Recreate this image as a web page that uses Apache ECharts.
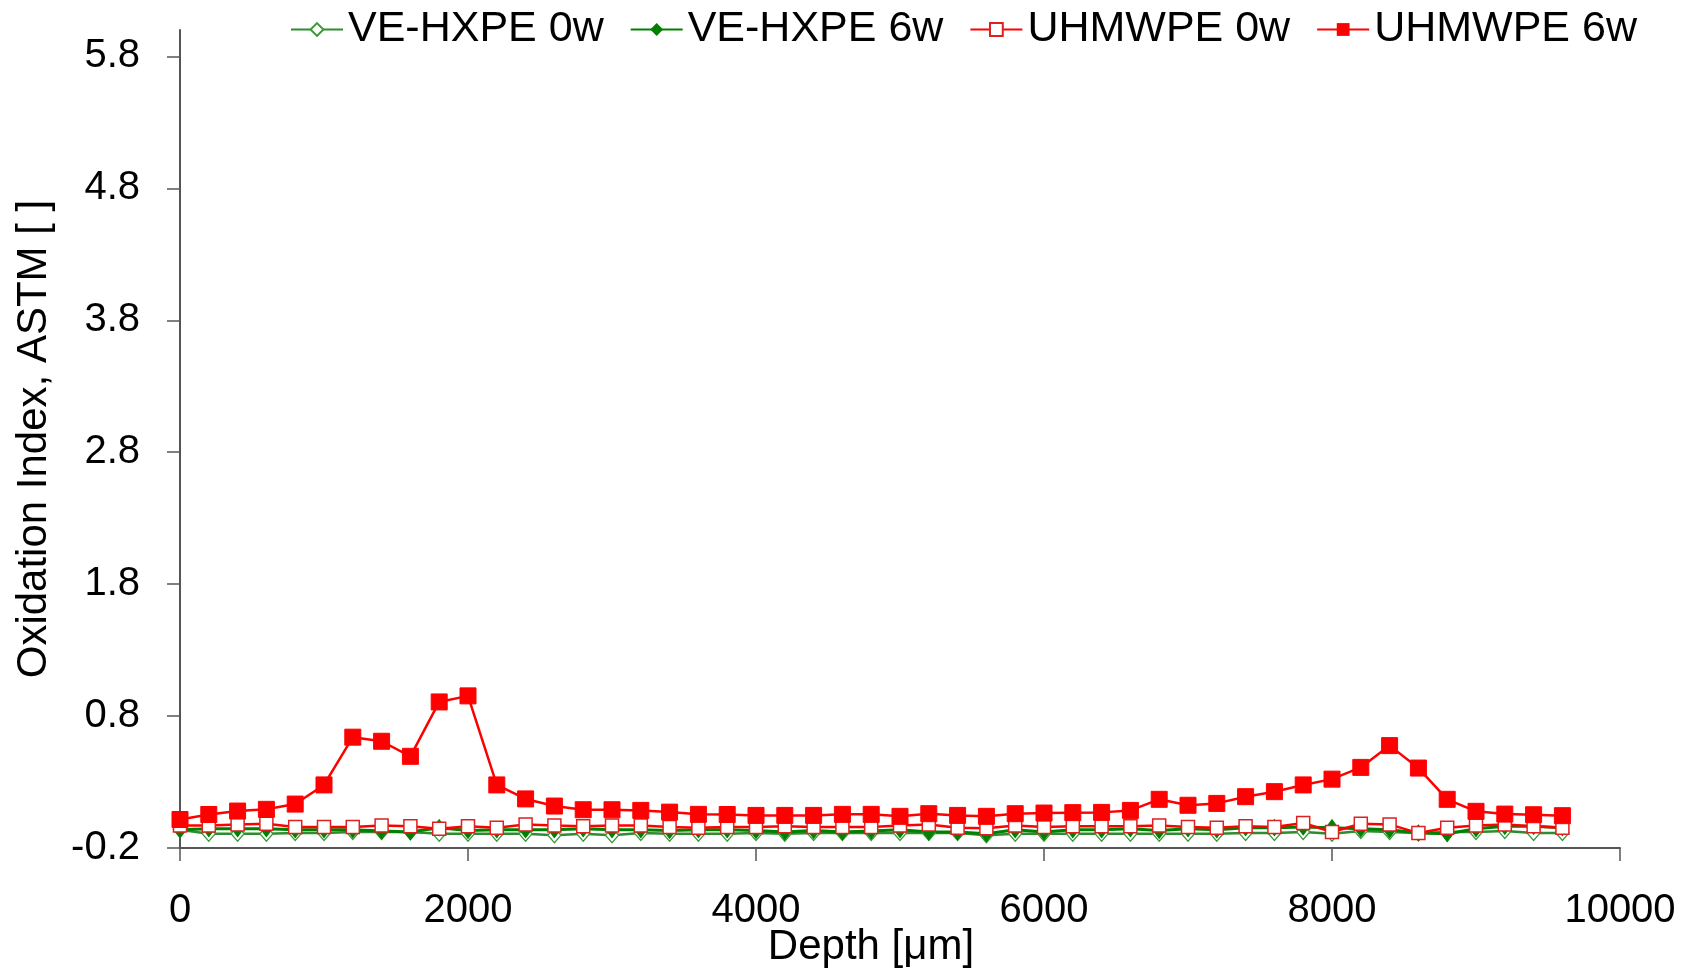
<!DOCTYPE html>
<html>
<head>
<meta charset="utf-8">
<script src="https://cdn.jsdelivr.net/npm/echarts@6/dist/echarts.min.js"></script>
<style>html,body{margin:0;padding:0;background:#fff;}#c{width:1690px;height:971px;}</style>
</head>
<body>
<div id="c"></div>
<script>
const depth = [0,200,400,600,800,1000,1200,1400,1600,1800,2000,2200,2400,2600,2800,3000,3200,3400,3600,3800,4000,4200,4400,4600,4800,5000,5200,5400,5600,5800,6000,6200,6400,6600,6800,7000,7200,7400,7600,7800,8000,8200,8400,8600,8800,9000,9200,9400,9600];
const veHxpe0w = [-0.061,-0.092,-0.092,-0.092,-0.087,-0.087,-0.079,-0.079,-0.079,-0.092,-0.092,-0.092,-0.092,-0.104,-0.092,-0.104,-0.087,-0.092,-0.092,-0.092,-0.087,-0.092,-0.087,-0.087,-0.087,-0.087,-0.087,-0.087,-0.104,-0.092,-0.092,-0.092,-0.092,-0.092,-0.092,-0.092,-0.092,-0.087,-0.087,-0.079,-0.092,-0.072,-0.079,-0.087,-0.079,-0.079,-0.072,-0.087,-0.087];
const veHxpe6w = [-0.061,-0.054,-0.054,-0.054,-0.061,-0.061,-0.061,-0.072,-0.079,-0.046,-0.067,-0.061,-0.061,-0.061,-0.054,-0.061,-0.061,-0.067,-0.061,-0.061,-0.067,-0.079,-0.067,-0.079,-0.072,-0.061,-0.079,-0.079,-0.092,-0.061,-0.079,-0.061,-0.061,-0.054,-0.067,-0.054,-0.061,-0.046,-0.046,-0.041,-0.046,-0.054,-0.061,-0.087,-0.092,-0.054,-0.036,-0.036,-0.046];
const uhmwpe0w = [-0.029,-0.029,-0.021,-0.016,-0.041,-0.041,-0.041,-0.029,-0.036,-0.054,-0.036,-0.046,-0.021,-0.029,-0.036,-0.029,-0.029,-0.041,-0.046,-0.041,-0.041,-0.036,-0.041,-0.041,-0.041,-0.029,-0.021,-0.046,-0.050,-0.029,-0.041,-0.036,-0.036,-0.036,-0.029,-0.041,-0.046,-0.036,-0.041,-0.011,-0.079,-0.016,-0.021,-0.087,-0.046,-0.029,-0.021,-0.036,-0.046];
const uhmwpe6w = [0.016,0.054,0.080,0.093,0.133,0.278,0.640,0.609,0.495,0.907,0.953,0.278,0.172,0.118,0.090,0.090,0.085,0.072,0.055,0.054,0.047,0.047,0.047,0.055,0.055,0.040,0.060,0.047,0.040,0.060,0.065,0.068,0.070,0.085,0.169,0.124,0.138,0.189,0.227,0.278,0.322,0.411,0.576,0.406,0.169,0.078,0.057,0.052,0.045];
const yTicks = [-0.2,0.8,1.8,2.8,3.8,4.8,5.8];
const xTicks = [0,2000,4000,6000,8000,10000];
const seriesNames = ['VE-HXPE 0w','VE-HXPE 6w','UHMWPE 0w','UHMWPE 6w'];

const pair = arr => depth.map((d,i)=>[d,arr[i]]);
const FONT = 'Liberation Sans, Arial, sans-serif';
const chart = echarts.init(document.getElementById('c'), null, {renderer:'canvas'});
chart.setOption({
  animation:false,
  backgroundColor:'#fff',
  grid:{left:180,right:70,top:30,bottom:123,containLabel:false,outerBoundsMode:'none'},
  legend:{
    top:3,left:285,itemWidth:52,itemHeight:16,itemGap:26,
    textStyle:{fontFamily:FONT,fontSize:43,color:'#000'},
    data:seriesNames
  },
  xAxis:{
    type:'value',min:0,max:10000,interval:2000,
    name:'Depth [\u03bcm]',nameLocation:'middle',nameGap:78,nameMoveOverlap:false,
    nameTextStyle:{fontFamily:FONT,fontSize:42,color:'#000',padding:[0,58,0,0]},
    axisLine:{show:true,onZero:false,lineStyle:{color:'#555',width:2}},
    axisTick:{show:true,inside:false,length:13,lineStyle:{color:'#555',width:1.5},customValues:xTicks},
    axisLabel:{fontFamily:FONT,fontSize:40,color:'#000',margin:43,customValues:xTicks,formatter:v=>String(v)},
    splitLine:{show:false}
  },
  yAxis:{
    type:'value',min:-0.2,max:6.0,
    name:'Oxidation Index, ASTM [ ]',nameLocation:'middle',nameGap:125,nameRotate:90,nameMoveOverlap:false,
    nameTextStyle:{fontFamily:FONT,fontSize:42,color:'#000'},
    axisLine:{show:true,onZero:false,lineStyle:{color:'#555',width:2}},
    axisTick:{show:true,inside:false,length:13,lineStyle:{color:'#555',width:1.5},customValues:yTicks},
    axisLabel:{fontFamily:FONT,fontSize:40,color:'#000',margin:40,customValues:yTicks,formatter:v=>v.toFixed(1)},
    splitLine:{show:false}
  },
  series:[
    {name:seriesNames[0],type:'line',data:pair(veHxpe0w),symbol:'diamond',symbolSize:[13,15],
      lineStyle:{color:'#2e8b2e',width:2.5},itemStyle:{color:'#fff',borderColor:'#3a9a3a',borderWidth:1.3},color:'#2e8b2e'},
    {name:seriesNames[1],type:'line',data:pair(veHxpe6w),symbol:'diamond',symbolSize:[12,16],
      lineStyle:{color:'#008000',width:3},itemStyle:{color:'#008000',borderColor:'#008000'},color:'#008000'},
    {name:seriesNames[2],type:'line',data:pair(uhmwpe0w),symbol:'rect',symbolSize:13,
      lineStyle:{color:'#ff0000',width:2.5},itemStyle:{color:'#fff',borderColor:'#dd2020',borderWidth:1.5},color:'#ff0000'},
    {name:seriesNames[3],type:'line',data:pair(uhmwpe6w),symbol:'rect',symbolSize:16,
      lineStyle:{color:'#ff0000',width:2.5},itemStyle:{color:'#ff0000',borderColor:'#ff0000'},color:'#ff0000'}
  ]
});
</script>
</body>
</html>
